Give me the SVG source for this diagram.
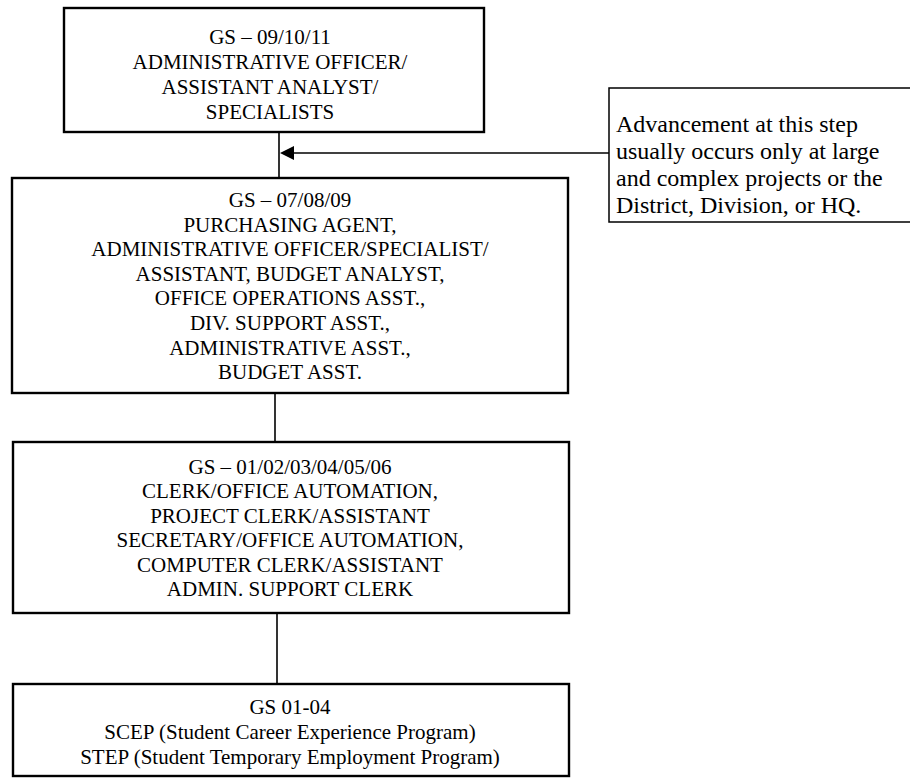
<svg xmlns="http://www.w3.org/2000/svg" width="910" height="780" viewBox="0 0 910 780">
<style>
.box{fill:#fff;stroke:#000;stroke-width:2.4}
.note{fill:#fff;stroke:#000;stroke-width:1.5}
.t{font-family:"Liberation Serif","Times New Roman",serif;font-size:21px;fill:#000;text-anchor:middle}
.n{font-family:"Liberation Serif","Times New Roman",serif;font-size:24px;fill:#000}
.c{stroke:#000;stroke-width:1.6;fill:none}
</style>
<rect width="910" height="780" fill="#fff"/>
<g id="connectors">
<line class="c" x1="279" y1="132" x2="279" y2="178"/>
<line class="c" x1="275" y1="393" x2="275" y2="442"/>
<line class="c" x1="277" y1="613" x2="277" y2="684"/>
<line class="c" x1="609" y1="153" x2="290" y2="153"/>
<polygon points="280,153 294,146 294,160" fill="#000"/>
</g>
<g id="node-gs091011">
<rect class="box" x="64" y="8" width="420" height="124"/>
<text class="t" x="270" y="44">GS – 09/10/11</text>
<text class="t" x="270" y="69">ADMINISTRATIVE OFFICER/</text>
<text class="t" x="270" y="94">ASSISTANT ANALYST/</text>
<text class="t" x="270" y="119">SPECIALISTS</text>
</g>
<g id="node-note">
<path class="note" d="M912,88 H609 V222 H912"/>
<text class="n" x="616" y="132">Advancement at this step</text>
<text class="n" x="616" y="159">usually occurs only at large</text>
<text class="n" x="616" y="186">and complex projects or the</text>
<text class="n" x="616" y="213">District, Division, or HQ.</text>
</g>
<g id="node-gs070809">
<rect class="box" x="12" y="178" width="556" height="215"/>
<text class="t" x="290" y="207">GS – 07/08/09</text>
<text class="t" x="290" y="231.6">PURCHASING AGENT,</text>
<text class="t" x="290" y="256.2">ADMINISTRATIVE OFFICER/SPECIALIST/</text>
<text class="t" x="290" y="280.8">ASSISTANT, BUDGET ANALYST,</text>
<text class="t" x="290" y="305.4">OFFICE OPERATIONS ASST.,</text>
<text class="t" x="290" y="330">DIV. SUPPORT ASST.,</text>
<text class="t" x="290" y="354.6">ADMINISTRATIVE ASST.,</text>
<text class="t" x="290" y="379.2">BUDGET ASST.</text>
</g>
<g id="node-gs0106">
<rect class="box" x="13" y="442" width="556" height="171"/>
<text class="t" x="290" y="474">GS – 01/02/03/04/05/06</text>
<text class="t" x="290" y="498.4">CLERK/OFFICE AUTOMATION,</text>
<text class="t" x="290" y="522.8">PROJECT CLERK/ASSISTANT</text>
<text class="t" x="290" y="547.2">SECRETARY/OFFICE AUTOMATION,</text>
<text class="t" x="290" y="571.6">COMPUTER CLERK/ASSISTANT</text>
<text class="t" x="290" y="596">ADMIN. SUPPORT CLERK</text>
</g>
<g id="node-gs0104">
<rect class="box" x="13" y="684" width="556" height="92"/>
<text class="t" x="290" y="714">GS 01-04</text>
<text class="t" x="290" y="739">SCEP (Student Career Experience Program)</text>
<text class="t" x="290" y="764">STEP (Student Temporary Employment Program)</text>
</g>
</svg>
